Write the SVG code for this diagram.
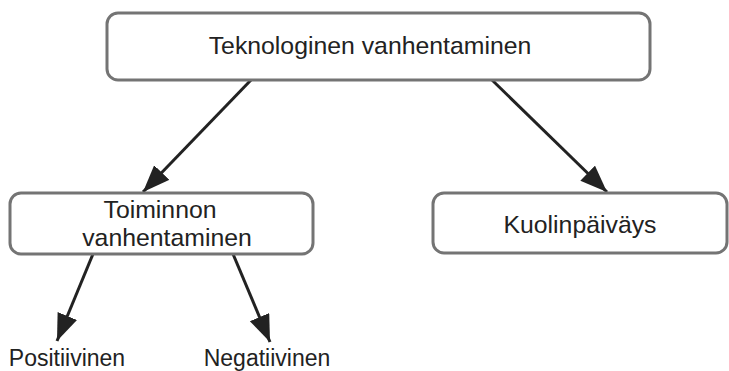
<svg xmlns="http://www.w3.org/2000/svg" width="729" height="371" viewBox="0 0 729 371">
<defs>
<style>
.box{fill:#fff;stroke:#747474;stroke-width:3}
.lbl{font-family:"Liberation Sans",Arial,sans-serif;font-size:24.8px;fill:#222;text-anchor:middle}
.sm{font-size:23px}
.edge{stroke:#222;stroke-width:3;fill:none;marker-end:url(#ah)}
</style>
<marker id="ah" markerUnits="userSpaceOnUse" markerWidth="28" markerHeight="22" refX="27" refY="10.5" orient="auto">
<path d="M0,0 L27,10.5 L0,21 Z" fill="#222"/>
</marker>
</defs>
<rect width="729" height="371" fill="#fff"/>
<g id="connectors">
<line class="edge" x1="251" y1="80" x2="143" y2="192"/>
<line class="edge" x1="492" y1="80" x2="607" y2="192"/>
<line class="edge" x1="93" y1="254" x2="57" y2="341"/>
<line class="edge" x1="233" y1="254" x2="270" y2="342"/>
</g>
<g id="n-top">
<rect class="box" x="107" y="13" width="543" height="67" rx="11"/>
<text class="lbl" x="370" y="54">Teknologinen vanhentaminen</text>
</g>
<g id="n-toiminnon">
<rect class="box" x="10" y="193" width="303" height="61" rx="11"/>
<text class="lbl" x="160" y="218">Toiminnon</text>
<text class="lbl" x="167" y="246">vanhentaminen</text>
</g>
<g id="n-kuolin">
<rect class="box" x="433" y="193" width="294" height="60" rx="11"/>
<text class="lbl" x="580" y="233">Kuolinpäiväys</text>
</g>
<g id="n-pos">
<text class="lbl sm" x="67" y="366">Positiivinen</text>
</g>
<g id="n-neg">
<text class="lbl sm" x="267" y="366">Negatiivinen</text>
</g>
</svg>
